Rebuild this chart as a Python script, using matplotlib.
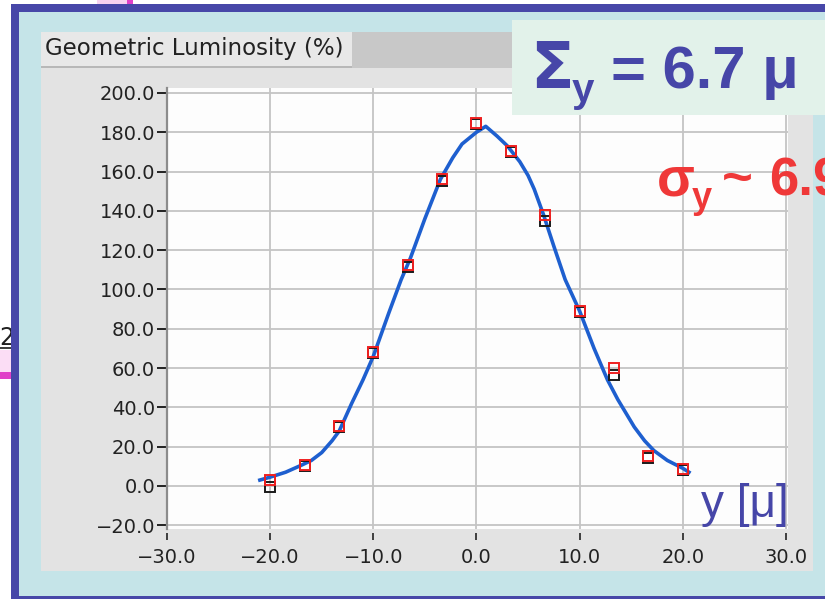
"""Geometric luminosity scan versus vertical beam offset, with fitted profile."""
import matplotlib
matplotlib.use('Agg')
import matplotlib.pyplot as plt
from matplotlib.patches import Rectangle

# scan points (offset in micron) and measured luminosity (%)
scan_y = [-20.0, -16.67, -13.33, -10.0, -6.67, -3.33, 0.0, 3.33, 6.67, 10.0, 13.33, 16.67, 20.0]
lumi_red = [2.8, 10.8, 30.5, 68.3, 112.5, 156.0, 184.9, 170.6, 137.9, 89.2, 59.9, 15.3, 8.7]
lumi_black = [-0.7, 10.2, 29.8, 67.5, 111.6, 155.2, 184.2, 170.0, 135.0, 88.5, 56.5, 14.2, 8.2]

# fitted curve read along its path
fit_y = [-21.0, -20.0, -18.5, -17.0, -16.0, -15.0, -14.0, -13.3, -12.1, -11.0, -10.0, -8.5,
         -7.3, -6.4, -5.0, -3.5, -2.3, -1.4, 0.0, 0.9, 2.0, 3.0, 4.2, 5.0, 5.6, 6.5, 7.5,
         8.6, 10.0, 11.4, 12.7, 13.7, 15.3, 16.3, 17.2, 18.5, 20.0, 20.6]
fit_lumi = [3.0, 4.5, 7.0, 10.5, 13.0, 17.0, 23.0, 28.0, 42.0, 54.0, 66.0, 88.0,
            105.0, 116.0, 136.0, 156.0, 167.0, 174.0, 180.0, 183.0, 178.0, 173.0, 165.0, 158.0,
            151.0, 138.0, 122.0, 105.0, 89.0, 70.0, 54.0, 44.0, 30.0, 23.0, 18.0, 13.0, 9.0, 7.0]

xticks = [-30, -20, -10, 0, 10, 20, 30]
yticks = [-20, 0, 20, 40, 60, 80, 100, 120, 140, 160, 180, 200]
xlabels = [f'{v:.1f}'.replace('-', '\u2212') for v in xticks]
ylabels = [f'{v:.1f}'.replace('-', '\u2212') for v in yticks]

W, H = 825, 599
fig = plt.figure(figsize=(W / 100, H / 100), dpi=100)
fig.patch.set_facecolor('white')


def box(x0, y0, x1, y1, color, z):
    # rectangle given in pixels from the top-left corner
    fig.add_artist(Rectangle((x0 / W, 1 - y1 / H), (x1 - x0) / W, (y1 - y0) / H,
                             transform=fig.transFigure, fc=color, ec='none', zorder=z))


def label(x, y, s, **kw):
    fig.text(x / W, 1 - y / H, s, **kw)


# bits of the slide behind the frame
box(97, 0, 127, 4, '#F8D2F0', -10)
box(127, 0, 133, 4, '#E040C8', -10)
box(0, 350, 11, 372, '#FBDDF5', -10)
box(0, 372, 11, 379, '#E040C8', -10)
box(0, 347, 11, 349, '#404040', -10)
label(14, 345, '2', fontsize=17, color='#202020', ha='right', va='baseline', zorder=-10)

# frame, panel and title tab
box(11, 4, 825, 599, '#4747A8', -9)
box(19, 12, 825, 596, '#C5E4E8', -8)
box(41, 66, 813, 571, '#E3E3E3', -7)
box(352, 32, 813, 68, '#C8C8C8', -6)
box(41, 32, 352, 66, '#E8E8E8', -6)
box(41, 66, 352, 68, '#B8B8B8', -6)
label(45, 49, 'Geometric Luminosity (%)', fontsize=16.5, color='#222222',
      va='center', ha='left', family='DejaVu Sans', zorder=-5)

ax = fig.add_axes([167 / W, (H - 529) / H, 621 / W, 441 / H])
ax.set_facecolor('#FDFDFD')
ax.set_xlim(-30, 30.2)
ax.set_ylim(-21.9, 202.5)
ax.set_xticks(xticks)
ax.set_xticklabels(xlabels)
ax.set_yticks(yticks)
ax.set_yticklabels(ylabels)
ax.grid(True, color='#C4C4C4', linewidth=1.3)
ax.set_axisbelow(True)
for side in ['top', 'right']:
    ax.spines[side].set_visible(False)
ax.spines['bottom'].set_position(('outward', 3))
ax.spines['bottom'].set_visible(False)
ax.spines['left'].set_color('#8C8C8C')
ax.spines['left'].set_linewidth(1.6)
ax.tick_params(axis='x', direction='out', length=5, width=1.2, pad=6,
               labelsize=14, colors='#222222')
ax.tick_params(axis='y', direction='out', length=7, width=1.4, pad=1.5,
               labelsize=14, colors='#222222')

ax.plot(fit_y, fit_lumi, color='#1E5FCF', linewidth=2.6, zorder=3)
ax.plot(scan_y, lumi_black, linestyle='none', marker='s', markersize=7,
        markerfacecolor='none', markeredgecolor='#1A1A1A', markeredgewidth=1.4, zorder=4)
ax.plot(scan_y, lumi_red, linestyle='none', marker='s', markersize=7,
        markerfacecolor='none', markeredgecolor='#F02020', markeredgewidth=1.4, zorder=5)

# fit results written on the slide
box(512, 20, 825, 115, '#E2F2EA', 2)
blue = '#4646A8'
red = '#EF3838'
label(530, 88, '\u03a3', fontsize=46, fontweight='bold', color=blue,
      family='DejaVu Sans', va='baseline', zorder=3)
label(572, 102, 'y', fontsize=29, fontweight='bold', color=blue,
      family='Liberation Sans', va='baseline', zorder=3)
label(611, 88, '= 6.7 \u03bc', fontsize=43, fontweight='bold', color=blue,
      family='Liberation Sans', va='baseline', zorder=3)

label(657, 196, '\u03c3', fontsize=40, fontweight='bold', color=red,
      family='Liberation Sans', va='baseline', zorder=3)
label(692, 208, 'y', fontsize=26, fontweight='bold', color=red,
      family='Liberation Sans', va='baseline', zorder=3)
label(722, 195, '~', fontsize=38, fontweight='bold', color=red,
      family='Liberation Sans', va='baseline', zorder=3)
label(769, 195, '6.9', fontsize=38, fontweight='bold', color=red,
      family='Liberation Sans', va='baseline', zorder=3)

label(701, 517, 'y [\u03bc]', fontsize=33, color=blue,
      family='Liberation Sans', va='baseline', zorder=3)

fig.savefig('out.png', dpi=100)
